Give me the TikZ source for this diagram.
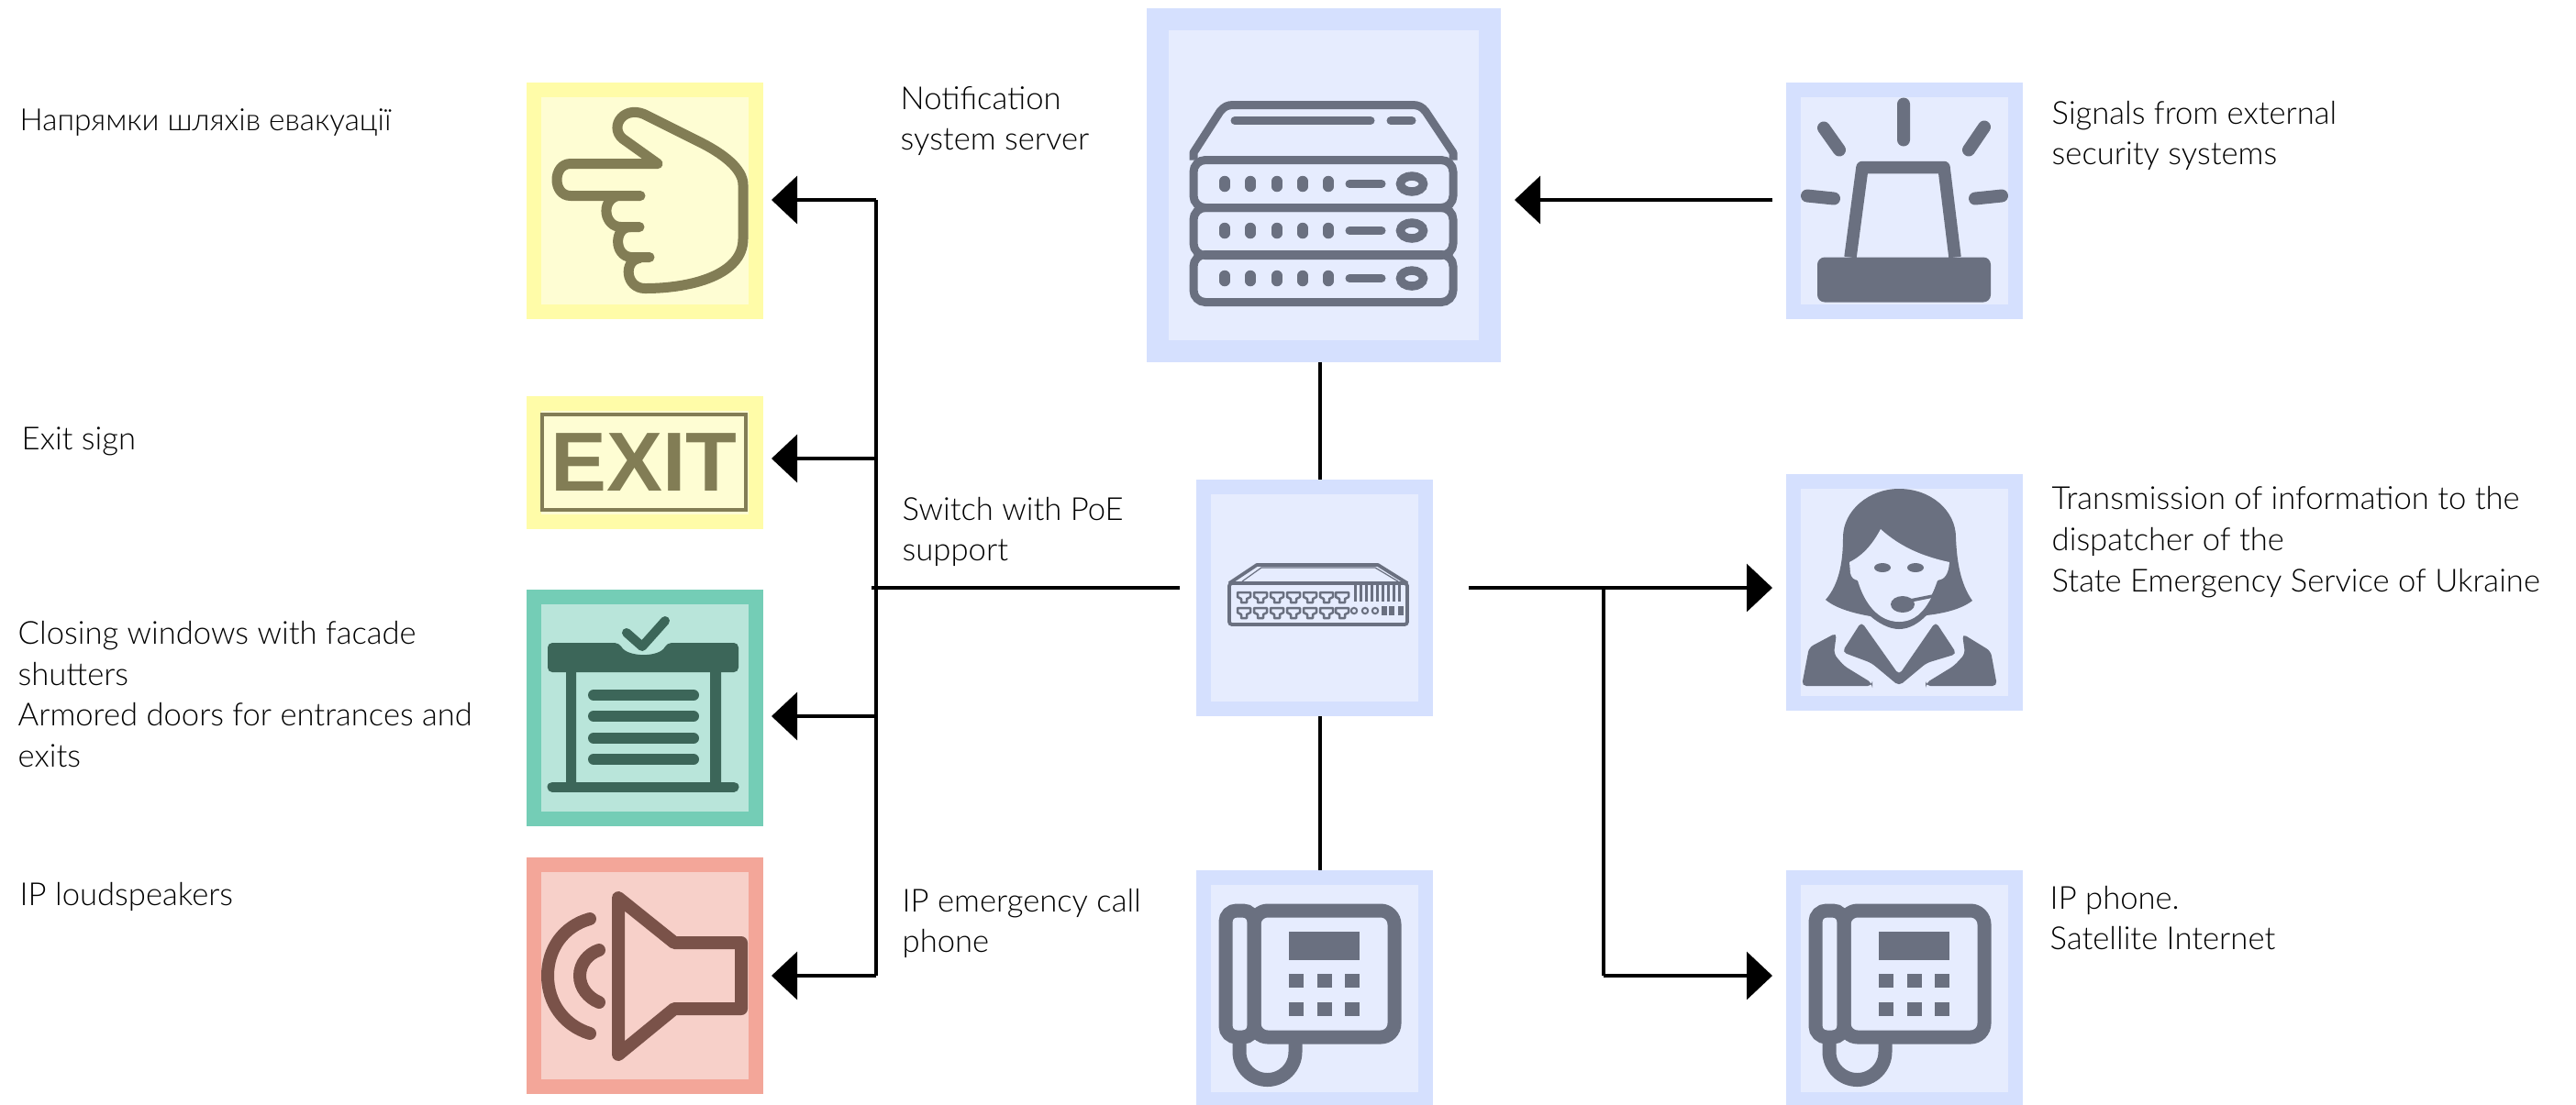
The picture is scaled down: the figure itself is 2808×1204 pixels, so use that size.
\documentclass[tikz,border=0pt]{standalone}
\usepackage{fontspec}
\setmainfont{Lato Light}
\newfontfamily\exitfont{Liberation Sans Bold}
\usetikzlibrary{arrows.meta}
\definecolor{blueB}{HTML}{D5E0FE}
\definecolor{blueF}{HTML}{E6ECFE}
\definecolor{blueI}{HTML}{6A7080}
\definecolor{yelB}{HTML}{FFFCA8}
\definecolor{yelF}{HTML}{FEFDD3}
\definecolor{yelI}{HTML}{827D55}
\definecolor{grnB}{HTML}{74CDB6}
\definecolor{grnF}{HTML}{B9E5DA}
\definecolor{grnI}{HTML}{3C6659}
\definecolor{redB}{HTML}{F3A699}
\definecolor{redF}{HTML}{F7D0C9}
\definecolor{redI}{HTML}{7A5249}
\tikzset{
  iconbox/.style={rectangle, inner sep=0pt, line width=1.6mm,
    minimum width=24.2mm, minimum height=24.2mm},
  bluebox/.style={iconbox, draw=blueB, fill=blueF},
  yelbox/.style={iconbox, draw=yelB, fill=yelF},
  grnbox/.style={iconbox, draw=grnB, fill=grnF},
  redbox/.style={iconbox, draw=redB, fill=redF},
  lbl/.style={anchor=west, align=left, inner sep=0pt, text=black,
    font=\fontsize{9.85}{12.7}\selectfont},
  link/.style={line width=0.33mm},
  arrlink/.style={link, -{Triangle[length=2.8mm,width=5.2mm]}},
  pics/handicon/.style={code={
    \draw[yelI, line width=1.1mm, line cap=round, line join=round]
      (124,124) -- (48,124) .. controls (28,124) and (28,89) .. (48,89) -- (143,89)
      -- (108,64) .. controls (88,52) and (104,25) .. (128,35) -- (186,64)
      .. controls (215,78) and (236,95) .. (236,112) -- (236,171)
      .. controls (236,210) and (180,225) .. (129,225)
      .. controls (108,225) and (105,195) .. (123,192);
    \draw[yelI, line width=1.1mm, line cap=round]
      (134,191) -- (114,191) .. controls (95,190) and (95,158) .. (113,158);
    \draw[yelI, line width=1.1mm, line cap=round]
      (123,158) -- (103,158) .. controls (85,158) and (80,130) .. (99,124);
  }},
  pics/shuttericon/.style={code={
    \fill[grnI, rounded corners=0.5mm] (23,58) -- (101,58)
      .. controls (110,74) and (145,74) .. (153,58) -- (231,58) -- (231,90) -- (23,90) -- cycle;
    \fill[grnI] (43,90) rectangle (54,212) (200,90) rectangle (212,212);
    \draw[grnI, line width=1.1mm, line cap=round] (28,215) -- (226,215);
    \foreach \rowy in {115,138,162,185}
      \draw[grnI, line width=1.2mm, line cap=round] (73,\rowy) -- (182,\rowy);
    \draw[grnI, line width=1mm, line cap=round, line join=round] (109,47) -- (126,62) -- (151,34);
  }},
  pics/speakericon/.style={code={
    \draw[redI, line width=1.4mm, line join=round]
      (100,44) -- (161,93) -- (234,93) -- (234,165) -- (161,165) -- (100,215) -- cycle;
    \draw[redI, line width=1.4mm, line cap=round]
      (69,67) .. controls (40,75) and (23,100) .. (23,129) .. controls (23,158) and (40,183) .. (69,192);
    \draw[redI, line width=1.4mm, line cap=round]
      (79,101) .. controls (67,105) and (58,116) .. (58,129) .. controls (58,142) and (67,153) .. (79,158);
  }},
  pics/servericon/.style={code={
    \draw[blueI, line width=0.9mm, line join=round]
      (51,166) -- (51,158) -- (80,113) .. controls (84,108) and (88,106) .. (94,106) -- (290,106)
      .. controls (296,106) and (300,108) .. (304,113) -- (334,158) -- (334,166);
    \foreach \rowtop/\rowmid in {166/192,218/243,269/295}{
      \draw[blueI, line width=0.9mm, rounded corners=1.3mm]
        (51,\rowtop) rectangle ++(283,52);
      \foreach \dotx in {85,113,142,170,198}
        \draw[blueI, line width=1.15mm, line cap=round] (\dotx,\rowmid-3) -- (\dotx,\rowmid+3);
      \draw[blueI, line width=0.9mm, line cap=round] (221,\rowmid) -- (256,\rowmid);
      \draw[blueI, line width=0.95mm] (289,\rowmid) ellipse [x radius=12.5, y radius=8.5];
    }
    \draw[blueI, line width=0.9mm, line cap=round] (96,123) -- (244,123) (266,123) -- (289,123);
  }},
  pics/switchicon/.style={code={
    \draw[blueI, line width=0.38mm, rounded corners=0.3mm] (36,113) rectangle (230,158);
    \draw[blueI, line width=0.38mm, line join=round] (36,113) -- (66,93) -- (198,93) -- (230,113);
    \draw[blueI, line width=0.12mm] (50,111) -- (71,96) -- (195,96) -- (220,111);
    \foreach \portx in {52,70,88,106,124,142,159}
      \foreach \porty in {128,145}
        \draw[blueI, line width=0.25mm, line join=round, shift={(\portx,\porty)}]
          (-7,-5) -- (7,-5) -- (7,0) -- (3,2) -- (3,6) -- (-3,6) -- (-3,2) -- (-7,0) -- cycle;
    \foreach \barx in {173,179,185,191,197,203,209,215,221}
      \draw[blueI, line width=0.3mm] (\barx,115) -- (\barx,133);
    \foreach \holex in {172,184,195}
      \draw[blueI, line width=0.2mm] (\holex,143) circle [radius=3.2];
    \foreach \holex in {205,213,223}
      \fill[blueI] (\holex-3,138) rectangle (\holex+3,148);
  }},
  pics/alarmicon/.style={code={
    \draw[blueI, line width=1.4mm, line cap=round]
      (128,24) -- (128,63) (41,50) -- (58,74) (216,49) -- (199,74)
      (23,124) -- (52,127) (206,127) -- (235,124);
    \draw[blueI, line width=1.35mm, line join=round]
      (70,191) -- (83,93) -- (172,93) -- (184,191);
    \fill[blueI, rounded corners=0.8mm] (34,191) rectangle (223,240);
  }},
  pics/operatoricon/.style={code={
    \fill[blueI] (43,137) .. controls (58,120) and (62,95) .. (62,69)
      .. controls (62,40) and (90,16) .. (123,16) .. controls (158,16) and (185,40) .. (185,69)
      .. controls (186,95) and (190,120) .. (203,138) .. controls (190,148) and (170,152) .. (153,154)
      .. controls (145,162) and (135,169) .. (123,169) .. controls (112,169) and (100,162) .. (92,155)
      .. controls (75,152) and (55,147) .. (43,137) -- cycle;
    \fill[blueF] (103,60) .. controls (95,75) and (85,88) .. (69,96) -- (70,108)
      .. controls (71,113) and (74,115) .. (78,116) .. controls (85,140) and (100,161) .. (123,161)
      .. controls (140,161) and (150,150) .. (158,135) -- (165,116)
      .. controls (172,115) and (177,110) .. (178,96) .. controls (150,90) and (125,80) .. (103,60) -- cycle;
    \fill[blueI] (105,102) ellipse [x radius=9, y radius=5] (141,102) ellipse [x radius=9, y radius=5];
    \fill[blueI] (127,142) ellipse [x radius=13, y radius=9];
    \draw[blueI, line width=0.35mm] (135,138) -- (160,133) -- (167,119);
    \fill[blueI, rounded corners=0.5mm] (17,231) -- (25,189) -- (55,173) -- (52,196)
      -- (63,209) -- (94,228) -- (94,231) -- cycle;
    \fill[blueI, rounded corners=0.5mm] (230,231) -- (223,193) -- (192,174) -- (195,196)
      -- (183,209) -- (152,228) -- (152,231) -- cycle;
    \fill[blueI, rounded corners=0.5mm] (61,194) -- (82,161) -- (123,219) -- (163,161)
      -- (186,196) -- (153,206) -- (123,231) -- (93,206) -- cycle;
  }},
  pics/phoneicon/.style={code={
    \draw[blueI, line width=1.5mm, rounded corners=1.2mm] (32,44) rectangle (63,182);
    \draw[blueI, line width=1.5mm, rounded corners=1.5mm] (63,44) rectangle (216,182);
    \draw[blueI, line width=1.5mm] (47,188) -- (47,198) arc [start angle=180, end angle=0, radius=30.5] -- (108,188);
    \fill[blueI] (101,67) rectangle (178,98);
    \foreach \keyx in {101,132,162}
      \foreach \keyy in {113,144}
        \fill[blueI] (\keyx,\keyy) rectangle ++(16,15);
  }}
}
\begin{document}
\begin{tikzpicture}[x=0.1mm, y=-0.1mm]
  \useasboundingbox (0,0) rectangle (2808,1204);
  \clip (0,0) rectangle (2808,1204);

  \node[yelbox] (hand) at (703,218.5) {};
  \node[yelbox, minimum height=12.9mm] (exit) at (703,504.5) {};
  \node[grnbox] (shutter) at (703,772) {};
  \node[redbox] (speaker) at (703,1064) {};
  \node[bluebox, minimum width=36.2mm, minimum height=36.2mm, line width=2.4mm] (server) at (1443,201.5) {};
  \node[bluebox] (switch) at (1433,652) {};
  \node[bluebox] (phonea) at (1433,1078) {};
  \node[bluebox] (alarm) at (2076,218.5) {};
  \node[bluebox] (operator) at (2076,646) {};
  \node[bluebox] (phoneb) at (2076,1078) {};

  \pic at (hand.north west) {handicon};
  \pic at (shutter.north west) {shuttericon};
  \pic at (speaker.north west) {speakericon};
  \pic at (server.north west) {servericon};
  \pic at (switch.north west) {switchicon};
  \pic at (phonea.north west) {phoneicon};
  \pic at (alarm.north west) {alarmicon};
  \pic at (operator.north west) {operatoricon};
  \pic at (phoneb.north west) {phoneicon};

  \node[draw=yelI, line width=0.45mm, minimum width=22.2mm, minimum height=10.4mm, inner sep=0pt,
    text=yelI, font=\fontsize{26}{26}\exitfont] (exitsign) at (702,504) {EXIT};

  \node[lbl, font=\fontsize{9.5}{12.7}\selectfont] (lblhand) at (21,134) {Напрямки шляхів евакуації};
  \node[lbl] (lblexit) at (23,481) {Exit sign};
  \node[lbl] (lblshutter) at (19,757) {Closing windows with facade\\shutters\\Armored doors for entrances and\\exits};
  \node[lbl] (lblspeaker) at (21,978) {IP loudspeakers};
  \node[lbl] (lblserver) at (981,132) {Notification\\system server};
  \node[lbl] (lblswitch) at (983,580) {Switch with PoE\\support};
  \node[lbl] (lblphonea) at (983,1007) {IP emergency call\\phone};
  \node[lbl] (lblalarm) at (2236,148) {Signals from external\\security systems};
  \node[lbl] (lbloperator) at (2236,591) {Transmission of information to the\\dispatcher of the\\State Emergency Service of Ukraine};
  \node[lbl] (lblphoneb) at (2234,1001) {IP phone.\\Satellite Internet};

  \coordinate (bushand) at (955,218);
  \coordinate (busexit) at (955,500);
  \coordinate (busshutter) at (955,781);
  \coordinate (busspeaker) at (955,1064);
  \coordinate (busin) at (950,641);
  \coordinate (tapout) at (1748,641);
  \coordinate (tapphone) at (1748,1064);

  \draw[link] (bushand) -- (busspeaker);
  \draw[arrlink, shorten >=0.9mm] (bushand) -- (bushand -| hand.east);
  \draw[arrlink, shorten >=0.9mm] (busexit) -- (busexit -| exit.east);
  \draw[arrlink, shorten >=0.9mm] (busshutter) -- (busshutter -| shutter.east);
  \draw[arrlink, shorten >=0.9mm] (busspeaker) -- (busspeaker -| speaker.east);
  \draw[link, shorten >=1.8mm] (busin) -- (busin -| switch.west);
  \draw[link] (server.south -| 1439,0) -- (switch.north -| 1439,0);
  \draw[link] (switch.south -| 1439,0) -- (phonea.north -| 1439,0);
  \draw[arrlink, shorten <=1.5mm, shorten >=1.5mm] (bushand -| alarm.west) -- (bushand -| server.east);
  \draw[arrlink, shorten <=3.9mm, shorten >=1.5mm] (tapout -| switch.east) -- (tapout -| operator.west);
  \draw[link] (tapout) -- (tapphone);
  \draw[arrlink, shorten >=1.5mm] (tapphone) -- (tapphone -| phoneb.west);
\end{tikzpicture}
\end{document}
